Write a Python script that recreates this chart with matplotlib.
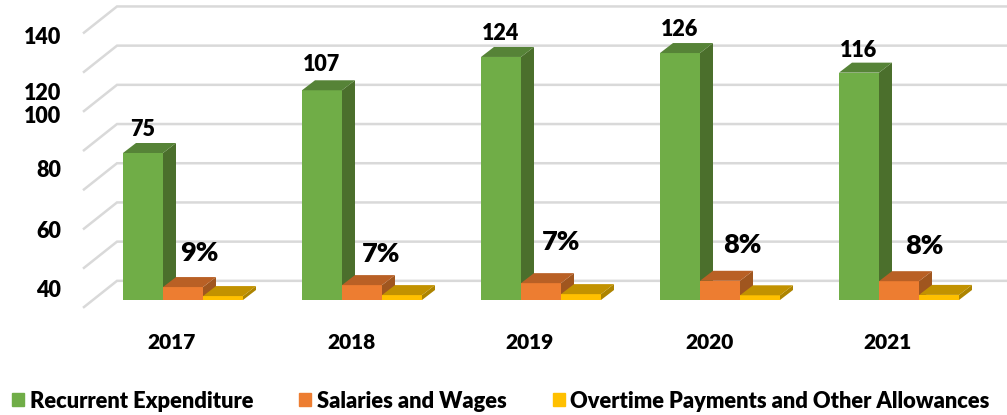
import matplotlib
matplotlib.use('Agg')
import matplotlib.pyplot as plt
from matplotlib.patches import Patch, Polygon

years = ['2017', '2018', '2019', '2020', '2021']
recurrent = [75, 107, 124, 126, 116]
salaries = [6.6, 7.6, 8.6, 9.8, 9.6]
overtime = [2.0, 2.5, 3.0, 2.4, 2.6]
pct_labels = ['9%', '7%', '7%', '8%', '8%']
axis_labels = ['140', '120', '100', '80', '60', '40']

GREEN = ('#70AD47', '#4B6F2C', '#568337')
ORANGE = ('#ED7D31', '#A0561F', '#B96025')
YELLOW = ('#FFC000', '#AD8400', '#C29200')

# chart scale, worked out from the picture (pixels)
PX_X = 179.0
PX_Y = 1.96
BASE_X = 183.0
BASE_Y = 300.0
W, H = 1007, 415

plt.rcParams['font.family'] = ['Lato', 'DejaVu Sans']
plt.rcParams['font.weight'] = 'heavy'

fig = plt.figure(figsize=(W / 100, H / 100), dpi=100)
ax = fig.add_axes([0, 0, 1, 1])
ax.set_xlim(-BASE_X / PX_X, (W - BASE_X) / PX_X)
ax.set_ylim((BASE_Y - H) / PX_Y, BASE_Y / PX_Y)
ax.axis('off')

bar_w = 40 / PX_X
dep_x = 13 / PX_X
dep_y = 10 / PX_Y


def bar3d(x, val, cols):
    left = x - bar_w / 2
    right = x + bar_w / 2
    ax.bar(x, val, bar_w, color=cols[0], zorder=3)
    ax.add_patch(Polygon([(right, 0), (right + dep_x, dep_y), (right + dep_x, val + dep_y), (right, val)],
                         facecolor=cols[1], edgecolor='none', zorder=3))
    ax.add_patch(Polygon([(left, val), (left + dep_x, val + dep_y), (right + dep_x, val + dep_y), (right, val)],
                         facecolor=cols[2], edgecolor='none', zorder=3))


# gridlines: floor/back wall corner
grid_dx = 34 / PX_X
grid_dy = 27 / PX_Y
grid_left = (83 - BASE_X) / PX_X
right_end = (W - BASE_X) / PX_X
for g in range(-4, 137, 20):
    ax.plot([grid_left, grid_left + grid_dx, right_end], [g, g + grid_dy, g + grid_dy],
            color='#D9D9D9', lw=1.8, zorder=1, solid_capstyle='butt', solid_joinstyle='miter')

for i in range(len(years)):
    bar3d(i - bar_w, recurrent[i], GREEN)
    bar3d(i, salaries[i], ORANGE)
    bar3d(i + bar_w, overtime[i], YELLOW)
    ax.text(i - 11 / PX_X, -21.5, years[i], ha='center', va='center', fontsize=15, color='black')

# value labels, nudged by hand like in the original
val_nudge = [12, 13, 12, 12, 11.5]
for i, v in enumerate(recurrent):
    ax.text(i - bar_w, v + val_nudge[i], str(v), ha='center', va='center', fontsize=15.5, color='black')

pct_x = [16, 19, 20, 22, 25]
pct_y = [23.8, 23.3, 29.5, 28, 27.5]
for i, p in enumerate(pct_labels):
    ax.text(i + pct_x[i] / PX_X, pct_y[i], p, ha='center', va='center', fontsize=19.5, color='black')

# value axis labels sit unevenly in the original
axis_y = [133.7, 105.6, 93.4, 66.3, 35.2, 4.6]
for t, y in zip(axis_labels, axis_y):
    ax.text((61 - BASE_X) / PX_X, y, t, ha='right', va='center', fontsize=15.5, color='black')

handles = [Patch(color=GREEN[0], label='Recurrent Expenditure'),
           Patch(color=ORANGE[0], label='Salaries and Wages'),
           Patch(color=YELLOW[0], label='Overtime Payments and Other Allowances')]
fig.legend(handles=handles, loc='lower left', bbox_to_anchor=(-0.005, -0.034), ncol=3, frameon=False,
           fontsize=15.75, handlelength=0.55, handleheight=0.55, handletextpad=0.25, columnspacing=2.1,
           labelspacing=0, borderpad=0.3)

fig.savefig('out.png', dpi=100)
